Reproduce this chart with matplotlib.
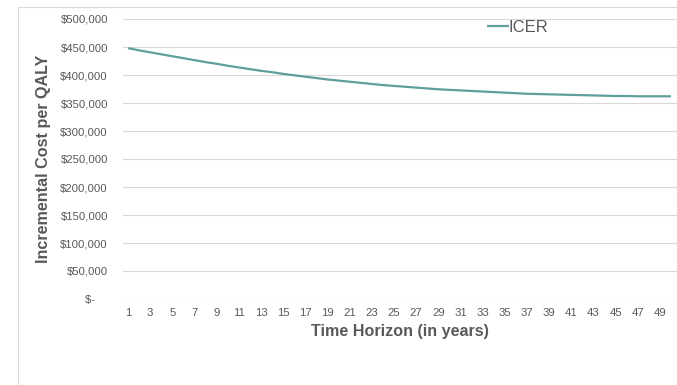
import matplotlib
matplotlib.use("Agg")
import matplotlib.pyplot as plt
from matplotlib.patches import Rectangle
from matplotlib.ticker import FuncFormatter

plt.rcParams['font.family'] = ['Liberation Sans', 'DejaVu Sans']

years = list(range(1, 51))
icer = [448000, 444000, 440500, 437000, 433500, 430000, 426500, 423000, 420000, 416500,
        413500, 410500, 407500, 405000, 402000, 399500, 397000, 394500, 392000, 390000,
        388000, 386000, 384000, 382000, 380500, 379000, 377500, 376000, 374500, 373500,
        372500, 371500, 370500, 369500, 368500, 367500, 366500, 366000, 365500, 365000,
        364500, 364000, 363500, 363000, 362500, 362500, 362000, 362000, 362000, 362000]
y_ticks = [0, 50000, 100000, 150000, 200000, 250000, 300000, 350000, 400000, 450000, 500000]
x_tick_labels = [str(y) for y in years[::2]]

W, H = 677, 385
fig = plt.figure(figsize=(W/100, H/100), dpi=100)

# outer chart frame
fig.patches.append(Rectangle((18/W, -0.1), 1.2, 1.1 - 6.5/H, transform=fig.transFigure,
                             fill=False, edgecolor='#d9d9d9', linewidth=0.8))

ax = fig.add_axes([122.5/W, 1 - 299/H, (676.5-122.5)/W, (299-19)/H])
ax.plot(years, icer, color='#5f9e9a', linewidth=1.6, label='ICER', solid_capstyle='butt')

ax.set_xlim(0.5, 50.5)
ax.set_ylim(0, 500000)
ax.set_yticks(y_ticks)

def fmt(v, pos):
    if v == 0:
        return '$-    '
    return '${:,.0f}'.format(v)

ax.yaxis.set_major_formatter(FuncFormatter(fmt))
ax.set_xticks(years[::2])
ax.set_xticklabels(x_tick_labels)
ax.tick_params(axis='both', length=0, labelsize=8.2, labelcolor='#595959')
ax.tick_params(axis='y', pad=10.5)
ax.tick_params(axis='x', pad=6.5)
ax.grid(axis='y', color='#d9d9d9', linewidth=0.8)
ax.set_axisbelow(True)
for s in ax.spines.values():
    s.set_visible(False)

ax.set_ylabel('Incremental Cost per QALY', fontsize=11.6, fontweight='bold', color='#595959', labelpad=7)
ax.set_xlabel('Time Horizon (in years)', fontsize=11.6, fontweight='bold', color='#595959', labelpad=4)

leg = ax.legend(loc='center left', bbox_to_anchor=(487/W, 1 - 27.5/H), bbox_transform=fig.transFigure,
                frameon=False, fontsize=12, handlelength=1.3, handletextpad=0.0,
                borderaxespad=0, borderpad=0)
for t in leg.get_texts():
    t.set_color('#595959')

fig.savefig('out.png', dpi=100)
